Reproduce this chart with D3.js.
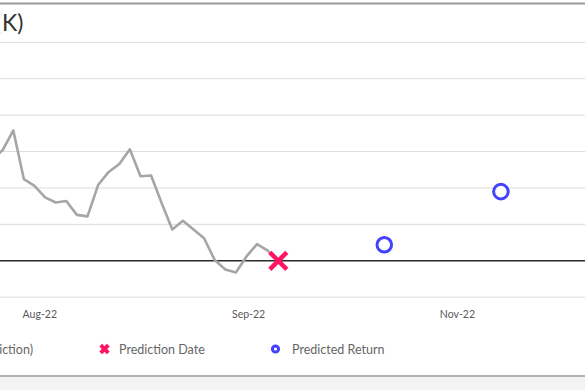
<!DOCTYPE html>
<html>
<head>
<meta charset="utf-8">
<script src="https://cdn.jsdelivr.net/npm/d3@7"></script>
<style>
  body { margin: 0; background: #fff; }
  svg { display: block; font-family: Lato, "Open Sans", sans-serif; }
</style>
</head>
<body>
<div id="chart"></div>
<script>
// closing values relative to prediction date, one per trading day (index -2 .. 25)
var histIdx = [-2, -1, 0, 1, 2, 3, 4, 5, 6, 7, 8, 9, 10, 11, 12, 13, 14, 15, 16, 17, 18, 19, 20, 21, 22, 23, 24, 25];
var histVal = [13.9, 15.2, 17.9, 11.2, 10.3, 8.7, 8.0, 8.2, 6.3, 6.1, 10.4, 12.2, 13.3, 15.3, 11.6, 11.7, 7.9, 4.3, 5.5, 4.3, 3.1, 0.1, -1.2, -1.6, 0.6, 2.3, 1.4, 0];

var predDateIdx = [25];
var predDateVal = [0];

var predRetIdx = [35, 46];
var predRetVal = [2.2, 9.5];

var tickLabels = ["Aug-22", "Sep-22", "Nov-22"];
var tickIdx = [2.5, 22.2, 41.9];

var gridVals = [-5, 0, 5, 10, 15, 20, 25, 30];

var width = 585, height = 390;

var x = d3.scaleLinear().domain([0, 25]).range([13.3, 278.3]);
var y = d3.scaleLinear().domain([-5, 30]).range([297.2, 42.3]);

var svg = d3.select("#chart").append("svg").attr("width", width).attr("height", height);

svg.append("rect").attr("width", width).attr("height", height).attr("fill", "#fff");

// the chart is shown cropped on the left; title keeps only its tail
svg.append("clipPath").attr("id", "titleclip")
    .append("rect").attr("x", 1.5).attr("y", 0).attr("width", 200).attr("height", 40);

// frame top and bottom
svg.append("line").attr("x1", 0).attr("x2", width).attr("y1", 3.5).attr("y2", 3.5)
    .attr("stroke", "#9a9a9a").attr("stroke-width", 2);
svg.append("rect").attr("x", 0).attr("y", 377).attr("width", width).attr("height", 13).attr("fill", "#f3f3f3");
svg.append("line").attr("x1", 0).attr("x2", width).attr("y1", 376).attr("y2", 376)
    .attr("stroke", "#999").attr("stroke-width", 1.5);

// title
svg.append("text").attr("x", 23.5).attr("y", 31).attr("text-anchor", "end")
    .attr("clip-path", "url(#titleclip)")
    .style("font-size", "23px").attr("fill", "#333")
    .text("Portfolio Value (K)");

// gridlines
svg.selectAll(".grid").data(gridVals).enter().append("line")
    .attr("x1", 0).attr("x2", width)
    .attr("y1", function(d) { return y(d); }).attr("y2", function(d) { return y(d); })
    .attr("stroke", function(d) { return d === 0 ? "#2b2b2b" : "#dcdcdc"; })
    .attr("stroke-width", function(d) { return d === 0 ? 1.6 : 1; });

// x labels
svg.selectAll(".xlab").data(tickLabels).enter().append("text")
    .attr("x", function(d, i) { return x(tickIdx[i]); })
    .attr("y", 318)
    .attr("text-anchor", "middle")
    .style("font-size", "10.5px").attr("fill", "#595959")
    .text(function(d) { return d; });

// history line
var line = d3.line()
    .x(function(d, i) { return x(histIdx[i]); })
    .y(function(d) { return y(d); });

svg.append("path").datum(histVal).attr("d", line)
    .attr("fill", "none").attr("stroke", "#a6a6a6").attr("stroke-width", 2.6)
    .attr("stroke-linejoin", "round");

// prediction date marker
function cross(cx, cy, r) {
    return "M" + (cx - r) + "," + (cy - r) + "L" + (cx + r) + "," + (cy + r) +
        "M" + (cx - r) + "," + (cy + r) + "L" + (cx + r) + "," + (cy - r);
}
svg.selectAll(".pd").data(predDateVal).enter().append("path")
    .attr("d", function(d, i) { return cross(x(predDateIdx[i]), y(d), 8.5); })
    .attr("stroke", "#ff1466").attr("stroke-width", 4.5).attr("fill", "none");

// predicted returns
svg.selectAll(".pr").data(predRetVal).enter().append("circle")
    .attr("cx", function(d, i) { return x(predRetIdx[i]); })
    .attr("cy", function(d) { return y(d); })
    .attr("r", 7.3)
    .attr("fill", "#fff").attr("stroke", "#4343ff").attr("stroke-width", 3);

// legend
var ly = 349;
svg.append("text").attr("x", 33).attr("y", ly + 4.5).attr("text-anchor", "end")
    .style("font-size", "12.5px").attr("fill", "#666").text("Portfolio Value (Before Prediction)");
svg.append("path").attr("d", cross(104.5, ly, 3.8))
    .attr("stroke", "#ff1466").attr("stroke-width", 4).attr("fill", "none");
svg.append("text").attr("x", 119).attr("y", ly + 4.5)
    .style("font-size", "12.5px").attr("fill", "#666").text("Prediction Date");
svg.append("circle").attr("cx", 275.5).attr("cy", ly).attr("r", 3.1)
    .attr("fill", "#fff").attr("stroke", "#4343ff").attr("stroke-width", 3);
svg.append("text").attr("x", 292).attr("y", ly + 4.5)
    .style("font-size", "12.5px").attr("fill", "#666").text("Predicted Return");
</script>
</body>
</html>
